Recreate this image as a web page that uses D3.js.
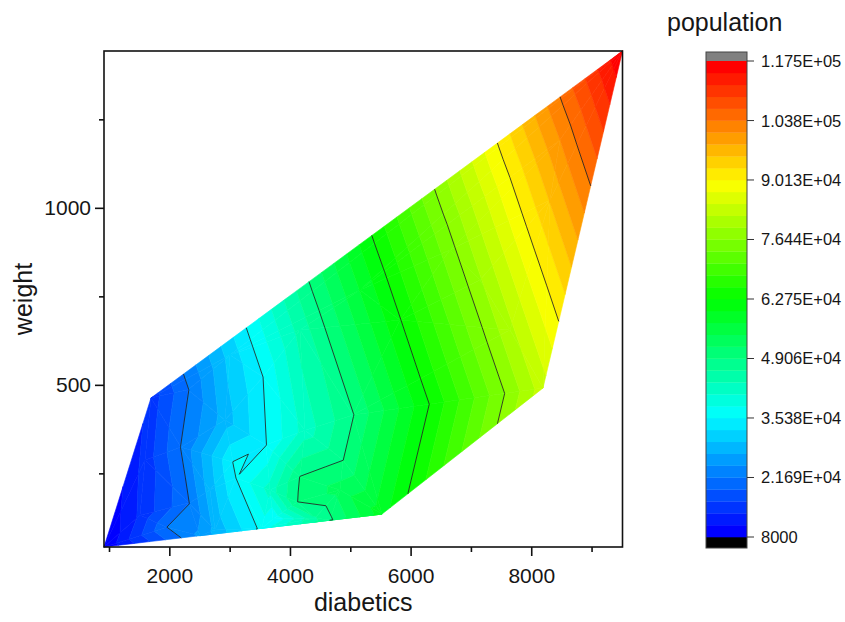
<!DOCTYPE html>
<html lang="en">
<head>
<meta charset="utf-8">
<title>Contour: population by diabetics and weight</title>
<script src="https://cdn.jsdelivr.net/npm/d3@7"></script>
<style>
  body { margin: 0; background: #fff; }
  text { font-family: "Liberation Sans", Arial, sans-serif; fill: #161616; }
</style>
</head>
<body>
<script>
var w = 845, h = 622;
var margin = { left: 104, right: 622.5, top: 51, bottom: 547 };

// scattered points: diabetics (x), weight (y), population (z)
var diabetics  = [917, 1696, 9513, 8195, 5526, 2310, 3553, 5045,
                  4166, 5824, 7150, 8311, 3006, 5161, 6653, 8477, 7648,
                  2194, 2326, 1961, 3603, 3056, 3105, 3719, 4879, 4166, 4117,
                  2923, 2674, 2757, 4249, 3669, 4415, 4829, 1597, 1514,
                  2508, 3536, 4664];
var weight     = [42, 463, 1443, 491, 135, 486, 522, 415,
                  655, 683, 796, 1022, 584, 768, 881, 1192, 655,
                  324, 166, 98, 330, 282, 237, 121, 288, 240, 169,
                  401, 203, 90, 372, 203, 124, 203, 288, 132,
                  74, 95, 118];
var population = [8100, 14600, 117400, 83400, 58800, 21550, 35370, 48900,
                  44600, 62580, 78860, 95780, 30930, 57390, 75420, 101070, 81130,
                  21800, 21600, 21700, 35300, 35450, 35390, 35395, 49000, 49150, 49000,
                  28500, 28500, 28000, 42000, 42000, 46000, 53000, 14500, 14000,
                  25000, 36200, 48500];

var xMajor = [2000, 4000, 6000, 8000];
var xMinor = [1000, 3000, 5000, 7000, 9000];
var yMajor = [500, 1000];
var yMinor = [250, 750, 1250];

var levelTicks = [8000, 21690, 35380, 49060, 62750, 76440, 90130, 103800, 117500];
var levelLabels = ["8000", "2.169E+04", "3.538E+04", "4.906E+04", "6.275E+04",
                   "7.644E+04", "9.013E+04", "1.038E+05", "1.175E+05"];
var subLevels = 5;

var svg = d3.select("body").append("svg")
    .attr("width", w)
    .attr("height", h);

var xScale = d3.scaleLinear().domain([917, 9513]).range([margin.left, margin.right]);
var yScale = d3.scaleLinear().domain([42, 1443]).range([margin.bottom, margin.top]);

// fine levels between the labelled ones
var levels = [];
for (var i = 0; i < levelTicks.length - 1; i++) {
    for (var k = 0; k < subLevels; k++) {
        levels.push(levelTicks[i] + (levelTicks[i + 1] - levelTicks[i]) * k / subLevels);
    }
}
levels.push(levelTicks[levelTicks.length - 1]);
var nBands = levels.length - 1;

var ramp = d3.scaleLinear()
    .domain([0, 0.25, 0.5, 0.75, 1])
    .range(["#0000ff", "#00ffff", "#00ff00", "#ffff00", "#ff0000"]);
var bandColor = function (i) { return ramp(i / (nBands - 1)); };

// points in screen space
var pts = diabetics.map(function (d, i) {
    return [xScale(d), yScale(weight[i]), population[i]];
});
var delaunay = d3.Delaunay.from(pts, function (p) { return p[0]; }, function (p) { return p[1]; });
var tris = delaunay.triangles;

function clip(poly, lev, above) {
    var out = [];
    for (var i = 0; i < poly.length; i++) {
        var a = poly[i], b = poly[(i + 1) % poly.length];
        var ina = above ? a[2] >= lev : a[2] <= lev;
        var inb = above ? b[2] >= lev : b[2] <= lev;
        if (ina) out.push(a);
        if (ina !== inb) {
            var t = (lev - a[2]) / (b[2] - a[2]);
            out.push([a[0] + t * (b[0] - a[0]), a[1] + t * (b[1] - a[1]), lev]);
        }
    }
    return out;
}

var bandPolys = [];
var linePaths = [];
for (var t = 0; t < tris.length; t += 3) {
    var tri = [pts[tris[t]], pts[tris[t + 1]], pts[tris[t + 2]]];
    var vmin = d3.min(tri, function (p) { return p[2]; });
    var vmax = d3.max(tri, function (p) { return p[2]; });
    for (var b = 0; b < nBands; b++) {
        if (levels[b + 1] < vmin || levels[b] > vmax) continue;
        var poly = clip(clip(tri, levels[b], true), levels[b + 1], false);
        if (poly.length >= 3) bandPolys.push({ poly: poly, band: b });
    }
    for (var m = 1; m < levelTicks.length - 1; m++) {
        var lev = levelTicks[m];
        var cross = [];
        for (var e = 0; e < 3; e++) {
            var p0 = tri[e], p1 = tri[(e + 1) % 3];
            if ((p0[2] - lev) * (p1[2] - lev) < 0) {
                var f = (lev - p0[2]) / (p1[2] - p0[2]);
                cross.push([p0[0] + f * (p1[0] - p0[0]), p0[1] + f * (p1[1] - p0[1])]);
            }
        }
        if (cross.length === 2) linePaths.push(cross);
    }
}

var polyLine = d3.line();

svg.append("g").selectAll("path")
    .data(bandPolys)
    .enter()
    .append("path")
    .attr("d", function (d) { return polyLine(d.poly) + "Z"; })
    .attr("fill", function (d) { return bandColor(d.band); })
    .attr("stroke", function (d) { return bandColor(d.band); })
    .attr("stroke-width", 0.6);

svg.append("g").selectAll("path")
    .data(linePaths)
    .enter()
    .append("path")
    .attr("d", function (d) { return polyLine(d); })
    .attr("fill", "none")
    .attr("stroke", "#222")
    .attr("stroke-width", 0.85);

// axes
var xMinorAxis = d3.axisBottom(xScale).tickValues(xMinor).tickSize(5).tickFormat("");
var xMajorAxis = d3.axisBottom(xScale).tickValues(xMajor).tickSize(9).tickPadding(12).tickFormat(d3.format("d"));
var yMinorAxis = d3.axisLeft(yScale).tickValues(yMinor).tickSize(5).tickFormat("");
var yMajorAxis = d3.axisLeft(yScale).tickValues(yMajor).tickSize(9).tickPadding(4).tickFormat(d3.format("d"));

[xMinorAxis, xMajorAxis].forEach(function (ax) {
    svg.append("g").attr("transform", "translate(0," + margin.bottom + ")").call(ax);
});
[yMinorAxis, yMajorAxis].forEach(function (ax) {
    svg.append("g").attr("transform", "translate(" + margin.left + ",0)").call(ax);
});
svg.selectAll(".domain").remove();
svg.selectAll(".tick line").attr("stroke", "#111").attr("stroke-width", 1.6);
svg.selectAll(".tick text")
    .attr("font-size", "21px")
    .attr("font-family", "Liberation Sans, Arial, sans-serif")
    .attr("fill", "#161616");

svg.append("rect")
    .attr("x", margin.left)
    .attr("y", margin.top)
    .attr("width", margin.right - margin.left)
    .attr("height", margin.bottom - margin.top)
    .attr("fill", "none")
    .attr("stroke", "#111")
    .attr("stroke-width", 1.6);

svg.append("text")
    .attr("x", (margin.left + margin.right) / 2)
    .attr("y", 611)
    .attr("text-anchor", "middle")
    .attr("font-size", "25px")
    .text("diabetics");

svg.append("text")
    .attr("transform", "translate(32," + (margin.top + margin.bottom) / 2 + ") rotate(-90)")
    .attr("text-anchor", "middle")
    .attr("font-size", "25px")
    .text("weight");

// colour scale bar
var cb = { x: 706, w: 41, top: 52, bottom: 548 };
var cbScale = d3.scaleLinear().domain([8000, 117500]).range([537, 61]);

svg.append("rect")
    .attr("x", cb.x).attr("y", cb.top)
    .attr("width", cb.w).attr("height", cbScale(117500) - cb.top)
    .attr("fill", "#808080");
svg.append("rect")
    .attr("x", cb.x).attr("y", cbScale(8000))
    .attr("width", cb.w).attr("height", cb.bottom - cbScale(8000))
    .attr("fill", "#000");

svg.append("g").selectAll("rect")
    .data(d3.range(nBands))
    .enter()
    .append("rect")
    .attr("x", cb.x)
    .attr("y", function (i) { return cbScale(levels[i + 1]); })
    .attr("width", cb.w)
    .attr("height", function (i) { return cbScale(levels[i]) - cbScale(levels[i + 1]) + 0.3; })
    .attr("fill", function (i) { return bandColor(i); });

svg.append("rect")
    .attr("x", cb.x).attr("y", cb.top)
    .attr("width", cb.w).attr("height", cb.bottom - cb.top)
    .attr("fill", "none")
    .attr("stroke", "#444")
    .attr("stroke-width", 1);

var cbTicks = svg.append("g").selectAll("g")
    .data(levelTicks)
    .enter()
    .append("g")
    .attr("transform", function (d) { return "translate(" + (cb.x + cb.w) + "," + cbScale(d) + ")"; });
cbTicks.append("line")
    .attr("x1", 0).attr("x2", 7)
    .attr("stroke", "#333").attr("stroke-width", 1);
cbTicks.append("text")
    .attr("x", 14)
    .attr("dy", "0.36em")
    .attr("font-size", "16.5px")
    .text(function (d, i) { return levelLabels[i]; });

svg.append("text")
    .attr("x", 667)
    .attr("y", 31)
    .attr("font-size", "25px")
    .text("population");
</script>
</body>
</html>
